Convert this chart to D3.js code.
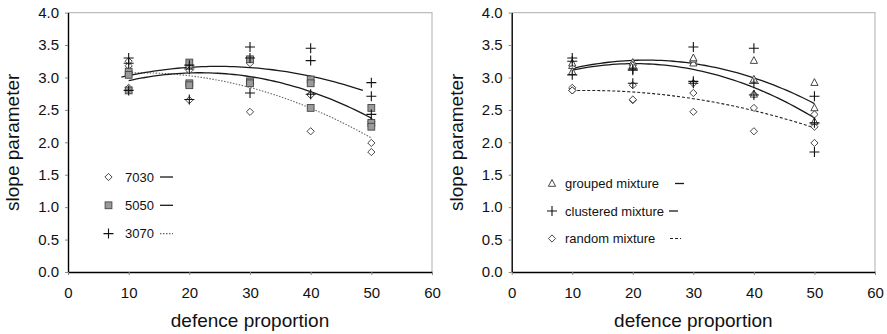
<!DOCTYPE html>
<html>
<head>
<meta charset="utf-8">
<script src="https://cdn.jsdelivr.net/npm/d3@7/dist/d3.min.js"></script>
<style>
  html, body { margin: 0; padding: 0; background: #fff; }
  svg { display: block; }
  text { font-family: "Liberation Sans", Arial, Helvetica, sans-serif; fill: #111; }
</style>
</head>
<body>
<svg id="chart" width="887" height="334"></svg>
<script>
// Defence proportions on the x axis
const proportions = [10, 20, 30, 40, 50];

// Slope parameter per mix ratio (7030, 5050, 3070) and mixture type
const r7030_grouped   = [3.18, 3.17, 3.22, 2.74, 2.32];
const r7030_clustered = [3.25, 3.11, 2.91, 2.73, 1.85];
const r7030_random    = [2.84, 2.65, 2.47, 2.17, 1.99];
const r5050_grouped   = [3.09, 3.23, 3.28, 2.97, 2.53];
const r5050_clustered = [3.04, 2.91, 2.94, 2.91, 2.30];
const r5050_random    = [2.80, 2.88, 2.91, 2.53, 2.24];
const r3070_grouped   = [3.22, 3.19, 3.30, 3.26, 2.92];
const r3070_clustered = [3.30, 3.13, 3.47, 3.45, 2.71];
const r3070_random    = [2.80, 2.66, 2.76, 2.74, 2.43];

const xTicks = [0, 10, 20, 30, 40, 50, 60];
const yTicks = [0, 0.5, 1, 1.5, 2, 2.5, 3, 3.5, 4];

const ratioNames = ["7030", "5050", "3070"];
const mixtureNames = ["grouped mixture", "clustered mixture", "random mixture"];

const svg = d3.select("#chart");
const FONT_TICK = 15, FONT_TITLE = 19, FONT_LEGEND = 13;

// Least-squares quadratic (polynomial trend line)
function quadFit(points) {
  let s = [0, 0, 0, 0, 0], t = [0, 0, 0];
  points.forEach(([x, y]) => {
    let p = 1;
    for (let k = 0; k < 5; k++) { s[k] += p; if (k < 3) t[k] += p * y; p *= x; }
  });
  const A = [[s[0], s[1], s[2], t[0]], [s[1], s[2], s[3], t[1]], [s[2], s[3], s[4], t[2]]];
  for (let i = 0; i < 3; i++) {
    for (let j = i + 1; j < 3; j++) {
      const f = A[j][i] / A[i][i];
      for (let k = i; k < 4; k++) A[j][k] -= f * A[i][k];
    }
  }
  const c = [0, 0, 0];
  for (let i = 2; i >= 0; i--) {
    let v = A[i][3];
    for (let k = i + 1; k < 3; k++) v -= A[i][k] * c[k];
    c[i] = v / A[i][i];
  }
  return x => c[0] + c[1] * x + c[2] * x * x;
}

function toPoints(arrays) {
  const pts = [];
  arrays.forEach(arr => arr.forEach((v, i) => pts.push([proportions[i], v])));
  return pts;
}

// Marker shapes
function drawMarker(g, type, cx, cy) {
  if (type === "diamond") {
    const r = 3.6;
    g.append("path").attr("d", `M${cx},${cy - r}L${cx + r},${cy}L${cx},${cy + r}L${cx - r},${cy}Z`)
      .attr("fill", "#fff").attr("stroke", "#333").attr("stroke-width", 0.9);
  } else if (type === "square") {
    const r = 3.4;
    g.append("rect").attr("x", cx - r).attr("y", cy - r).attr("width", 2 * r).attr("height", 2 * r)
      .attr("fill", "#9a9a9a").attr("stroke", "#444").attr("stroke-width", 0.9);
  } else if (type === "plus") {
    const r = 5;
    g.append("path").attr("d", `M${cx - r},${cy}H${cx + r}M${cx},${cy - r}V${cy + r}`)
      .attr("stroke", "#111").attr("stroke-width", 1.1).attr("fill", "none");
  } else if (type === "triangle") {
    const r = 4;
    g.append("path").attr("d", `M${cx},${cy - r}L${cx + r * 0.9},${cy + r * 0.7}L${cx - r * 0.9},${cy + r * 0.7}Z`)
      .attr("fill", "#fff").attr("stroke", "#333").attr("stroke-width", 0.9);
  }
}

const lineStyles = {
  solid: { stroke: "#1a1a1a", width: 1.3, dash: null },
  dotted: { stroke: "#666", width: 1.1, dash: "1.5,1.5" },
  dashed: { stroke: "#222", width: 1.1, dash: "3,2" }
};

function panel(opts) {
  const { left, right, top, bottom, series, legend } = opts;
  const x = d3.scaleLinear().domain([0, 60]).range([left, right]);
  const y = d3.scaleLinear().domain([0, 4]).range([bottom, top]);
  const g = svg.append("g");

  // frame: grey top and right edges
  g.append("path").attr("d", `M${left},${top}H${right}V${bottom}`)
    .attr("fill", "none").attr("stroke", "#bdbdbd").attr("stroke-width", 1.2);

  const yAxis = g.append("g").attr("transform", `translate(${left},0)`)
    .call(d3.axisLeft(y).tickValues(yTicks).tickFormat(d3.format(".1f")).tickSize(3).tickPadding(6).tickSizeOuter(0));
  const xAxis = g.append("g").attr("transform", `translate(0,${bottom})`)
    .call(d3.axisBottom(x).tickValues(xTicks).tickFormat(d3.format("d")).tickSize(3).tickPadding(12).tickSizeOuter(0));
  [yAxis, xAxis].forEach(a => {
    a.select(".domain").attr("stroke", "#000").attr("stroke-width", 1.4);
    a.selectAll(".tick line").attr("stroke", "#888");
    a.selectAll("text").attr("font-size", FONT_TICK).attr("font-family", null).attr("fill", "#111");
  });

  g.append("text").attr("transform", `translate(${left - 49},${(top + bottom) / 2}) rotate(-90)`)
    .attr("text-anchor", "middle").attr("font-size", FONT_TITLE).text("slope parameter");
  g.append("text").attr("x", (left + right) / 2).attr("y", 327)
    .attr("text-anchor", "middle").attr("font-size", FONT_TITLE).text("defence proportion");

  // trend lines
  series.forEach(s => {
    const f = quadFit(toPoints(s.arrays));
    const [x0, x1] = s.span || [10, 50];
    const pts = d3.range(0, 61).map(i => x0 + (x1 - x0) * i / 60);
    const st = lineStyles[s.line];
    g.append("path").datum(pts)
      .attr("d", d3.line().x(d => x(d)).y(d => y(f(d))))
      .attr("fill", "none").attr("stroke", st.stroke).attr("stroke-width", st.width)
      .attr("stroke-dasharray", st.dash);
  });

  // data points
  series.forEach(s => {
    const mg = g.append("g");
    s.arrays.forEach(arr => arr.forEach((v, i) => drawMarker(mg, s.marker, x(proportions[i]), y(v))));
  });

  // legend
  legend.rows.forEach((row, i) => {
    const cy = legend.y + i * legend.dy;
    drawMarker(g, row.marker, legend.mx, cy);
    g.append("text").attr("x", legend.tx).attr("y", cy).attr("dy", "0.35em")
      .attr("font-size", FONT_LEGEND).text(row.label);
    const st = lineStyles[row.line];
    g.append("line").attr("x1", row.lx[0]).attr("x2", row.lx[1]).attr("y1", cy).attr("y2", cy)
      .attr("stroke", st.stroke).attr("stroke-width", st.width).attr("stroke-dasharray", st.dash);
  });
}

panel({
  left: 68, right: 432, top: 12.6, bottom: 272,
  series: [
    { name: ratioNames[0], arrays: [r7030_grouped, r7030_clustered, r7030_random], marker: "diamond", line: "dotted" },
    { name: ratioNames[1], arrays: [r5050_grouped, r5050_clustered, r5050_random], marker: "square", line: "solid" },
    { name: ratioNames[2], arrays: [r3070_grouped, r3070_clustered, r3070_random], marker: "plus", line: "solid", span: [8.8, 48.6] }
  ],
  legend: {
    mx: 108.5, tx: 125, y: 177, dy: 28.3,
    rows: [
      { marker: "diamond", label: ratioNames[0], line: "solid", lx: [160, 173] },
      { marker: "square", label: ratioNames[1], line: "solid", lx: [160, 173] },
      { marker: "plus", label: ratioNames[2], line: "dotted", lx: [160, 173] }
    ]
  }
});

panel({
  left: 511.7, right: 875, top: 12.6, bottom: 272,
  series: [
    { name: mixtureNames[2], arrays: [r7030_random, r5050_random, r3070_random], marker: "diamond", line: "dashed" },
    { name: mixtureNames[0], arrays: [r7030_grouped, r5050_grouped, r3070_grouped], marker: "triangle", line: "solid" },
    { name: mixtureNames[1], arrays: [r7030_clustered, r5050_clustered, r3070_clustered], marker: "plus", line: "solid" }
  ],
  legend: {
    mx: 552, tx: 565, y: 183.5, dy: 27.5,
    rows: [
      { marker: "triangle", label: mixtureNames[0], line: "solid", lx: [675, 684] },
      { marker: "plus", label: mixtureNames[1], line: "solid", lx: [669, 678] },
      { marker: "diamond", label: mixtureNames[2], line: "dashed", lx: [670, 681] }
    ]
  }
});
</script>
</body>
</html>
